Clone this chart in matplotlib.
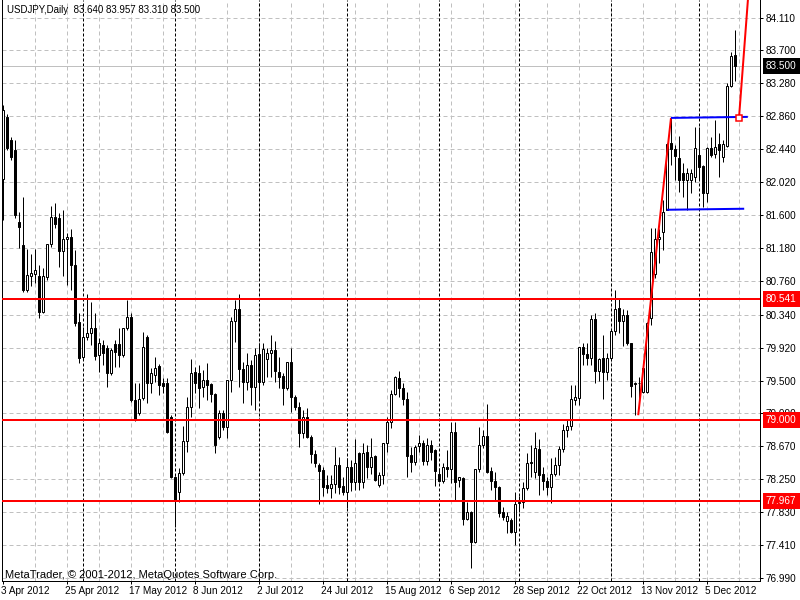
import matplotlib
matplotlib.use("Agg")
import matplotlib.pyplot as plt
import matplotlib.transforms as mtransforms
import numpy as np
import pandas as pd

# ---------------- data ----------------
title_text = "USDJPY,Daily  83.640 83.957 83.310 83.500"
copyright_text = "MetaTrader, \u00a9 2001-2012, MetaQuotes Software Corp."

dates = pd.bdate_range("2012-04-03", periods=184)

opens = [82.06, 82.85, 82.56, 82.43, 81.52, 81.22, 80.65, 80.83, 80.86, 80.83,
         80.37, 80.82, 81.24, 81.58, 81.57, 81.15, 81.30, 81.33, 80.97, 80.25,
         79.80, 80.05, 80.10, 80.17, 79.83, 79.95, 79.91, 79.60, 79.97, 79.97,
         79.83, 80.17, 80.31, 79.25, 79.09, 79.28, 80.05, 79.47, 79.57, 79.69,
         79.47, 79.47, 79.04, 78.27, 78.08, 78.32, 78.73, 79.16, 79.61, 79.60,
         79.42, 79.51, 79.46, 79.33, 78.78, 79.09, 78.91, 79.51, 80.26, 80.41,
         79.65, 79.48, 79.70, 79.42, 79.84, 79.48, 79.77, 79.85, 79.89, 79.61,
         79.56, 79.41, 79.74, 79.29, 79.16, 78.83, 79.04, 78.78, 78.57, 78.43,
         78.36, 78.17, 78.13, 78.18, 78.43, 78.16, 78.08, 78.40, 78.21, 78.58,
         78.21, 78.59, 78.40, 78.54, 78.17, 78.30, 78.71, 78.97, 79.33, 79.53,
         79.41, 79.27, 78.55, 78.46, 78.67, 78.71, 78.48, 78.68, 78.62, 78.31,
         78.22, 78.40, 78.38, 78.85, 78.24, 78.26, 77.74, 77.83, 77.45, 78.38,
         78.68, 78.80, 78.35, 78.22, 78.15, 77.83, 77.72, 77.73, 77.57, 77.94,
         77.96, 78.13, 78.45, 78.34, 78.63, 78.31, 78.22, 78.15, 78.31, 78.43,
         78.63, 78.87, 78.92, 79.25, 79.28, 79.93, 79.84, 79.79, 80.28, 79.62,
         79.79, 79.61, 79.79, 80.13, 80.42, 80.26, 80.33, 79.98, 79.46, 79.47,
         79.35, 79.35, 80.30, 80.85, 81.30, 81.39, 81.67, 82.52, 82.45, 82.33,
         82.14, 82.05, 82.05, 82.09, 82.37, 82.23, 81.89, 82.46, 82.38, 82.51,
         82.34, 82.48, 83.25, 83.640]
highs = [83.00, 82.89, 82.60, 82.56, 81.64, 81.83, 81.17, 81.11, 81.17, 80.97,
         80.93, 81.24, 81.72, 81.76, 81.63, 81.67, 81.38, 81.43, 81.16, 80.36,
         80.18, 80.60, 80.50, 80.36, 80.04, 80.02, 79.95, 79.91, 80.02, 80.17,
         80.17, 80.53, 80.36, 79.47, 79.47, 80.12, 80.08, 79.66, 79.80, 79.71,
         79.53, 79.53, 79.06, 78.29, 78.39, 78.92, 79.29, 79.77, 79.67, 79.70,
         79.63, 79.72, 79.47, 79.34, 79.13, 79.13, 79.51, 80.31, 80.52, 80.60,
         79.74, 79.85, 79.76, 79.91, 79.98, 79.98, 79.91, 80.08, 80.00, 79.80,
         79.60, 79.74, 79.91, 79.32, 79.23, 79.13, 79.15, 78.81, 78.62, 78.45,
         78.40, 78.30, 78.30, 78.66, 78.53, 78.27, 78.52, 78.49, 78.76, 78.59,
         78.71, 78.68, 78.77, 78.55, 78.34, 78.71, 79.04, 79.38, 79.56, 79.62,
         79.47, 79.36, 78.66, 78.68, 78.81, 78.74, 78.77, 78.74, 78.63, 78.39,
         78.45, 78.62, 78.97, 78.97, 78.27, 78.27, 77.96, 77.84, 78.38, 78.91,
         78.87, 79.20, 78.40, 78.34, 78.16, 77.89, 77.83, 77.75, 78.08, 78.03,
         78.21, 78.58, 78.68, 78.85, 78.76, 78.40, 78.27, 78.52, 78.53, 78.67,
         78.95, 79.00, 79.44, 79.44, 79.93, 79.98, 79.98, 80.33, 80.36, 79.79,
         80.08, 79.85, 80.14, 80.65, 80.54, 80.41, 80.40, 79.98, 79.48, 79.55,
         79.72, 80.25, 81.44, 81.44, 81.43, 81.80, 82.52, 82.84, 82.50, 82.61,
         82.27, 82.20, 82.19, 82.72, 82.72, 82.24, 82.47, 82.60, 82.81, 82.65,
         82.56, 83.28, 83.68, 83.957]
lows = [81.54, 82.43, 82.31, 81.57, 81.19, 80.63, 80.63, 80.70, 80.74, 80.30,
        80.36, 80.78, 81.20, 81.44, 80.94, 80.83, 80.72, 80.65, 80.19, 79.72,
        79.76, 80.02, 79.95, 79.76, 79.61, 79.70, 79.42, 79.57, 79.67, 79.67,
        79.80, 80.14, 79.23, 78.99, 79.06, 79.25, 79.21, 79.34, 79.48, 79.32,
        79.34, 78.83, 78.26, 77.64, 77.96, 78.30, 78.59, 79.04, 79.34, 79.15,
        79.29, 79.25, 79.23, 78.58, 78.76, 78.87, 78.77, 79.35, 79.99, 79.42,
        79.21, 79.38, 79.19, 79.13, 79.25, 79.44, 79.55, 79.55, 79.48, 79.40,
        79.19, 79.38, 79.10, 79.13, 78.66, 78.77, 78.77, 78.45, 78.40, 77.93,
        78.03, 78.07, 78.01, 78.07, 78.06, 78.05, 77.88, 78.10, 78.11, 78.11,
        78.13, 78.26, 78.31, 78.22, 78.15, 78.18, 78.59, 78.90, 79.32, 79.29,
        79.19, 78.27, 78.34, 78.43, 78.59, 78.43, 78.43, 78.49, 78.16, 78.21,
        78.20, 78.27, 78.20, 77.98, 78.15, 77.66, 77.73, 77.12, 77.43, 78.34,
        78.64, 78.32, 78.11, 77.98, 77.77, 77.73, 77.56, 77.56, 77.41, 77.83,
        77.88, 78.11, 78.27, 78.26, 78.05, 78.11, 78.05, 77.94, 78.29, 78.30,
        78.59, 78.78, 78.87, 79.19, 79.19, 79.70, 79.70, 79.70, 79.47, 79.50,
        79.27, 79.51, 79.76, 80.08, 80.10, 79.94, 79.95, 79.29, 79.06, 79.19,
        79.34, 79.34, 80.21, 80.80, 81.00, 81.16, 81.67, 82.24, 82.05, 81.90,
        81.83, 81.67, 81.88, 82.02, 82.05, 81.71, 81.77, 82.34, 82.33, 82.09,
        82.28, 82.47, 83.23, 83.310]
closes = [82.94, 82.46, 82.34, 81.61, 81.45, 80.65, 80.84, 80.87, 80.91, 80.37,
          80.83, 81.24, 81.58, 81.49, 81.15, 81.30, 81.33, 80.97, 80.23, 79.79,
          80.05, 80.10, 80.17, 79.81, 79.98, 79.85, 79.60, 79.89, 79.86, 79.83,
          80.17, 80.31, 79.25, 79.01, 79.27, 79.93, 79.47, 79.60, 79.66, 79.44,
          79.43, 78.85, 78.27, 77.98, 78.32, 78.73, 79.16, 79.60, 79.47, 79.41,
          79.51, 79.44, 79.33, 78.68, 79.09, 78.91, 79.51, 80.26, 80.41, 79.65,
          79.48, 79.70, 79.42, 79.83, 79.48, 79.90, 79.85, 79.89, 79.62, 79.55,
          79.41, 79.74, 79.29, 79.16, 78.83, 79.04, 78.78, 78.57, 78.45, 78.35,
          78.15, 78.13, 78.18, 78.43, 78.15, 78.08, 78.40, 78.21, 78.45, 78.21,
          78.58, 78.40, 78.53, 78.24, 78.30, 78.71, 78.97, 79.33, 79.55, 79.41,
          79.27, 78.54, 78.46, 78.66, 78.71, 78.48, 78.68, 78.59, 78.35, 78.22,
          78.40, 78.38, 78.85, 78.21, 78.27, 77.74, 77.83, 77.45, 78.38, 78.68,
          78.80, 78.34, 78.22, 78.15, 77.82, 77.77, 77.78, 77.57, 77.93, 77.96,
          78.13, 78.45, 78.46, 78.64, 78.30, 78.22, 78.15, 78.31, 78.43, 78.63,
          78.87, 78.92, 79.27, 79.29, 79.93, 79.84, 79.79, 80.28, 79.62, 79.77,
          79.61, 79.79, 80.13, 80.41, 80.26, 80.33, 79.98, 79.43, 79.47, 79.47,
          79.66, 80.23, 81.13, 81.30, 81.33, 81.64, 82.51, 82.45, 82.36, 82.05,
          82.05, 82.14, 82.14, 82.46, 82.22, 81.89, 82.46, 82.37, 82.47, 82.43,
          82.51, 83.25, 83.63, 83.500]

price_ticks = [84.110, 83.700, 83.280, 82.860, 82.440, 82.020, 81.600, 81.180, 80.760,
               80.340, 79.920, 79.500, 79.090, 78.670, 78.250, 77.830, 77.410, 76.990]
price_tick_labels = ["84.110", "83.700", "83.280", "82.860", "82.440", "82.020", "81.600",
                     "81.180", "80.760", "80.340", "79.920", "79.500", "79.090", "78.670",
                     "78.250", "77.830", "77.410", "76.990"]
level_prices = [80.541, 79.000, 77.967]
level_labels = ["80.541", "79.000", "77.967"]
last_price = 83.500
last_label = "83.500"

# analysis objects (bar index, price)
red_trend1_bars = [158.8, 167.0]
red_trend1_prices = [79.06, 82.84]
red_trend2_bars = [184.0, 187.0]
red_trend2_prices = [82.84, 84.86]
blue_top_bars = [167.0, 186.2]
blue_top_prices = [82.840, 82.853]
blue_bot_bars = [166.0, 185.3]
blue_bot_prices = [81.672, 81.685]
marker_bar = 184.0
marker_price = 82.84

# ---------------- figure ----------------
plt.rcParams['font.family'] = ['Liberation Sans', 'DejaVu Sans']
FS = 7.2
PX = 0.72  # one pixel in points at dpi 100

W, H = 800, 600
fig = plt.figure(figsize=(8, 6), dpi=100)
fig.patch.set_facecolor('white')
left_px, right_px, top_px, bottom_px = 2, 760, 0, 581
ax = fig.add_axes([left_px / W, 1 - bottom_px / H, (right_px - left_px) / W, (bottom_px - top_px) / H])
ax.set_facecolor('white')

n = len(opens)
x = np.arange(n)
ax.set_xlim(-0.25, 189.25)
ax.set_ylim(76.952, 84.339)

# grid
for p in price_ticks:
    ax.axhline(p, color='#c0c0c0', lw=PX, ls=(0, (4, 3)), zorder=1)
for b in range(8, 190, 8):
    ax.axvline(b, color='#c0c0c0', lw=PX, ls=(0, (4, 3)), zorder=1)

# month separators
months = dates.to_period('M')
for i in range(1, n):
    if months[i] != months[i - 1]:
        ax.axvline(i, color='black', lw=PX, ls=(0, (3, 2)), zorder=1.5)

# bid line
ax.axhline(last_price, color='#c0c0c0', lw=PX, zorder=1.6)

# candles
o = np.array(opens); h = np.array(highs); l = np.array(lows); c = np.array(closes)
ax.vlines(x, l, h, color='black', lw=PX, zorder=3)
bull = c >= o
body_bottom = np.minimum(o, c)
body_h = np.abs(c - o)
ax.bar(x[bull], body_h[bull], bottom=body_bottom[bull], width=0.5,
       facecolor='white', edgecolor='black', linewidth=PX, zorder=4)
ax.bar(x[~bull], body_h[~bull], bottom=body_bottom[~bull], width=0.5,
       facecolor='black', edgecolor='black', linewidth=PX, zorder=4)

# horizontal levels
for p in level_prices:
    ax.axhline(p, color='red', lw=2 * PX, zorder=5)

# trend lines / channel
ax.plot(red_trend1_bars, red_trend1_prices, color='red', lw=2 * PX, zorder=6, solid_capstyle='butt')
ax.plot(red_trend2_bars, red_trend2_prices, color='red', lw=2 * PX, zorder=6, solid_capstyle='butt')
ax.plot(blue_top_bars, blue_top_prices, color='#0000ff', lw=2 * PX, zorder=6, solid_capstyle='butt')
ax.plot(blue_bot_bars, blue_bot_prices, color='#0000ff', lw=2 * PX, zorder=6, solid_capstyle='butt')
ax.plot([marker_bar], [marker_price], marker='s', ms=5, mfc='white', mec='red', mew=1.5 * PX, zorder=7)

# spines
for s in ['left', 'right', 'bottom']:
    ax.spines[s].set_color('black')
    ax.spines[s].set_linewidth(PX)
ax.spines['top'].set_visible(False)

# axes ticks
ax.yaxis.tick_right()
ax.set_yticks(price_ticks)
ax.set_yticklabels(price_tick_labels)
ax.tick_params(axis='y', direction='out', length=3 * PX, width=PX, pad=3 * PX,
               labelsize=FS, colors='black')

xt = list(range(0, n, 16))
ax.set_xticks(xt)
ax.set_xticklabels([f"{d.day} {d.strftime('%b %Y')}" for d in dates[xt]])
ax.tick_params(axis='x', direction='out', length=3 * PX, width=PX, pad=2 * PX,
               labelsize=FS, colors='black')
shift = mtransforms.ScaledTranslation(-2 / 100, 0, fig.dpi_scale_trans)
for lab in ax.get_xticklabels():
    lab.set_ha('left')
    lab.set_transform(lab.get_transform() + shift)

# price labels with backgrounds (drawn over the regular tick labels, as in the terminal)
for p, lab in zip(level_prices, level_labels):
    ax.annotate(lab, xy=(1, p), xycoords=('axes fraction', 'data'),
                xytext=(6 * PX, 0), textcoords='offset points', ha='left', va='center',
                fontsize=FS, color='white', zorder=10, annotation_clip=False,
                bbox=dict(boxstyle='square,pad=0.3', fc='red', ec='none'))
ax.annotate(last_label, xy=(1, last_price), xycoords=('axes fraction', 'data'),
            xytext=(6 * PX, 0), textcoords='offset points', ha='left', va='center',
            fontsize=FS, color='white', zorder=10, annotation_clip=False,
            bbox=dict(boxstyle='square,pad=0.3', fc='black', ec='none'))

# texts
fig.text(7 / W, 1 - 10 / H, title_text, ha='left', va='center', fontsize=7.0, color='black')
fig.text(5 / W, 1 - 575 / H, copyright_text, ha='left', va='center', fontsize=8.0, color='black')

fig.savefig('out.png', dpi=100)
